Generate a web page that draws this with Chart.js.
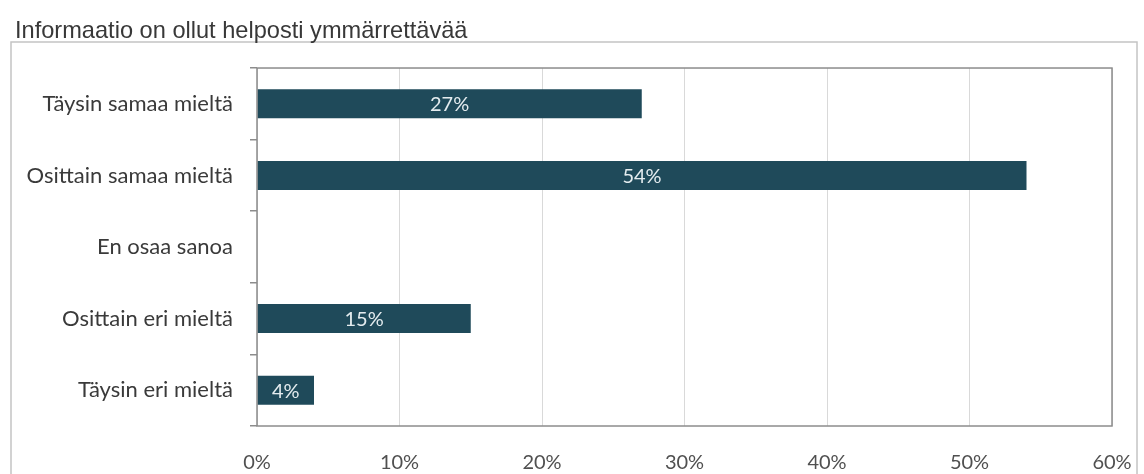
<!DOCTYPE html>
<html>
<head>
<meta charset="utf-8">
<script src="https://cdn.jsdelivr.net/npm/chart.js@4"></script>
<style>
  html, body { margin: 0; padding: 0; background: #fff; }
  #wrap { width: 1144px; height: 474px; }
</style>
</head>
<body>
<div id="wrap"><canvas id="chart-ymmarrettava"></canvas></div>
<script>
const TITLE = 'Informaatio on ollut helposti ymmärrettävää';
const categories = ['Täysin samaa mieltä', 'Osittain samaa mieltä', 'En osaa sanoa', 'Osittain eri mieltä', 'Täysin eri mieltä'];
const shares = [27, 54, 0, 15, 4];
const axisTicks = [0, 10, 20, 30, 40, 50, 60];

const COLORS = {
  bar:    '#1f4a5a',
  label:  '#e4ecef',
  text:   '#3a3a3a',
  tick:   '#505050',
  grid:   '#d9d9d9',
  border: '#8c8c8c',
  frame:  '#c4c4c4',
};

const LABEL_FONT = "Lato, 'Open Sans', sans-serif";

// outer frame, plot border and value labels inside the bars
const decorations = {
  id: 'decorations',
  beforeDraw(chart) {
    const ctx = chart.ctx;
    ctx.save();
    ctx.strokeStyle = COLORS.frame;
    ctx.lineWidth = 1.5;
    ctx.strokeRect(11, 42, 1126, 460);
    ctx.restore();
  },
  afterDatasetsDraw(chart) {
    const ctx = chart.ctx;
    const area = chart.chartArea;
    ctx.save();
    ctx.strokeStyle = COLORS.border;
    ctx.lineWidth = 1.5;
    ctx.strokeRect(area.left, area.top, area.right - area.left, area.bottom - area.top);

    ctx.fillStyle = COLORS.label;
    ctx.font = '20px ' + LABEL_FONT;
    ctx.textAlign = 'center';
    ctx.textBaseline = 'middle';
    chart.getDatasetMeta(0).data.forEach((bar, i) => {
      if (!shares[i]) return;
      ctx.fillText(shares[i] + '%', (bar.base + bar.x) / 2, bar.y + 1);
    });
    ctx.restore();
  }
};

new Chart(document.getElementById('chart-ymmarrettava'), {
  type: 'bar',
  data: {
    labels: categories,
    datasets: [{
      data: shares,
      backgroundColor: COLORS.bar,
      categoryPercentage: 1,
      barPercentage: 0.405,
    }]
  },
  options: {
    indexAxis: 'y',
    responsive: true,
    maintainAspectRatio: false,
    animation: false,
    layout: { padding: { left: 15, right: 32, top: 0, bottom: 0 } },
    plugins: {
      legend: { display: false },
      tooltip: { enabled: false },
      title: {
        display: true,
        text: TITLE,
        align: 'start',
        color: '#383838',
        font: { family: "'Liberation Sans', Arial, sans-serif", size: 23.6, weight: 'normal' },
        padding: { top: 17.5, bottom: 22.2 },
      }
    },
    scales: {
      x: {
        min: axisTicks[0],
        max: axisTicks[axisTicks.length - 1],
        afterBuildTicks: (scale) => { scale.ticks = axisTicks.map(v => ({ value: v })); },
        afterFit: (scale) => {
          scale.height = 48;
          scale.paddingLeft = 0;
          scale.paddingRight = 0;
        },
        ticks: {
          callback: (v) => v + '%',
          color: COLORS.tick,
          font: { family: LABEL_FONT, size: 20 },
          padding: 25,
        },
        grid: { color: COLORS.grid, drawTicks: false },
        border: { display: false },
      },
      y: {
        offset: true,
        afterFit: (scale) => { scale.width = 242; },
        ticks: {
          color: COLORS.text,
          font: { family: LABEL_FONT, size: 22 },
          padding: 17,
        },
        grid: {
          offset: true,
          drawOnChartArea: false,
          tickLength: 7,
          color: COLORS.border,
          lineWidth: 1.5,
        },
        border: { display: false },
      }
    }
  },
  plugins: [decorations]
});
</script>
</body>
</html>
